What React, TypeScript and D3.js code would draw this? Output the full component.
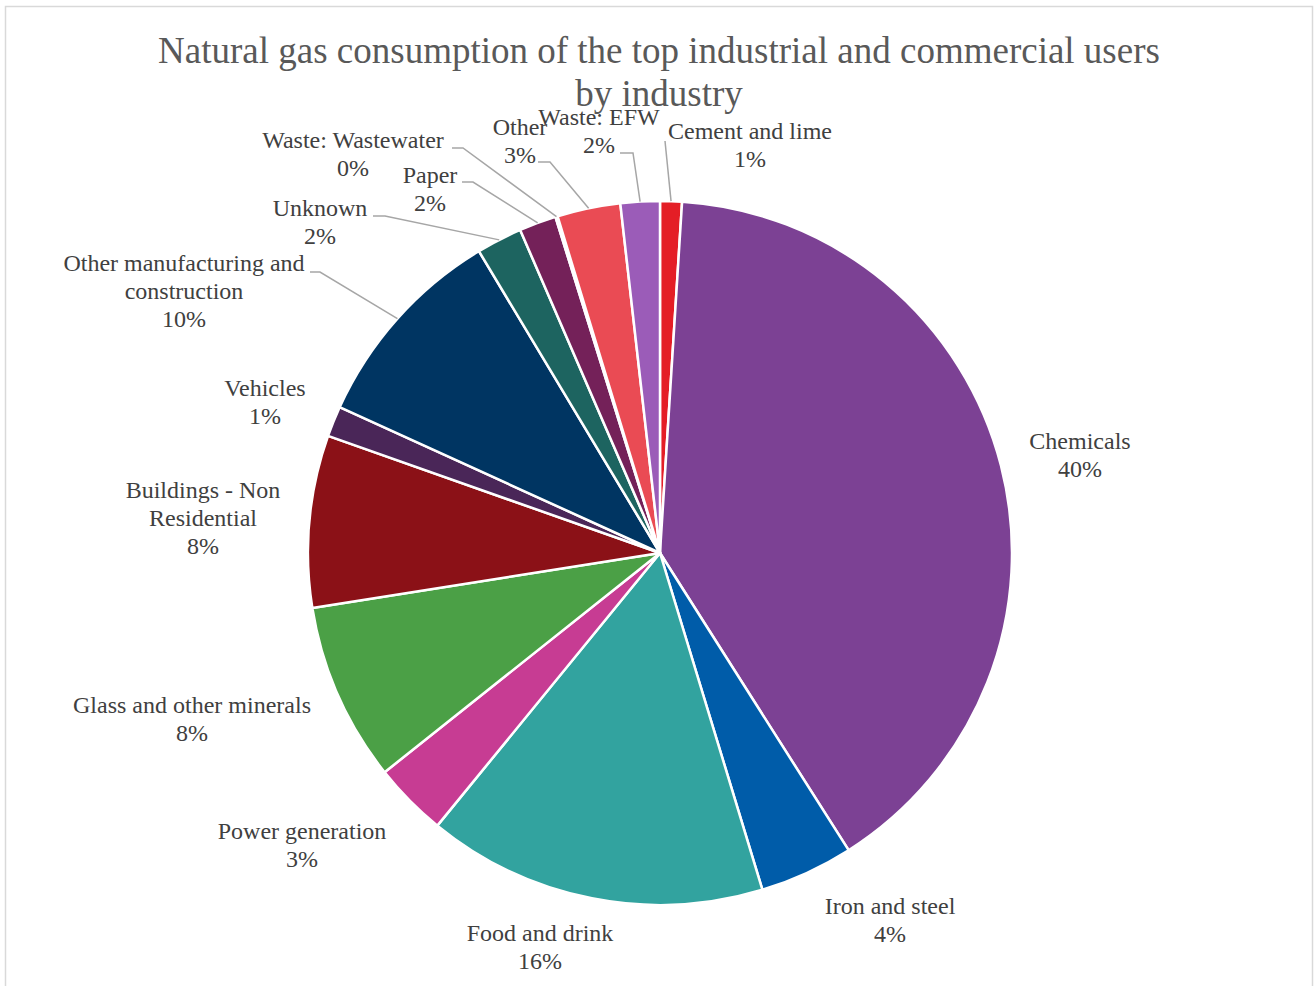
import React from "react";
import * as d3 from "d3";

const categories = [
  "Cement and lime",
  "Chemicals",
  "Iron and steel",
  "Food and drink",
  "Power generation",
  "Glass and other minerals",
  "Buildings - Non Residential",
  "Vehicles",
  "Other manufacturing and construction",
  "Unknown",
  "Paper",
  "Waste: Wastewater",
  "Other",
  "Waste: EFW",
];

const values = [1.0, 40.0, 4.3, 15.6, 3.4, 8.2, 7.9, 1.4, 9.6, 2.1, 1.7, 0.1, 2.9, 1.8];

const colors = [
  "#E41E26",
  "#7C4194",
  "#005CA9",
  "#32A39F",
  "#C73C93",
  "#4BA046",
  "#8B1117",
  "#4A2658",
  "#003562",
  "#1D6460",
  "#742159",
  "#B0B0B0",
  "#EA4B54",
  "#9B5CB8",
];

// label text lines per category (as wrapped in the reference)
const labelLines: string[][] = [
  ["Cement and lime"],
  ["Chemicals"],
  ["Iron and steel"],
  ["Food and drink"],
  ["Power generation"],
  ["Glass and other minerals"],
  ["Buildings - Non", "Residential"],
  ["Vehicles"],
  ["Other manufacturing and", "construction"],
  ["Unknown"],
  ["Paper"],
  ["Waste: Wastewater"],
  ["Other"],
  ["Waste: EFW"],
];

const title = ["Natural gas consumption of the top industrial and commercial users", "by industry"];

// layout (offsets from pie centre), not data
const labelOffsets: [number, number][] = [
  [90, -422],
  [420, -112],
  [230, 353],
  [-120, 380],
  [-358, 278],
  [-468, 152],
  [-457, -63],
  [-395, -165],
  [-476, -290],
  [-340, -345],
  [-230, -378],
  [-307, -413],
  [-140, -426],
  [-61, -436],
];
// leader start & elbow offsets (null = none)
const leaders: ([number, number, number, number] | null)[] = [
  [5, -412, 5, -412],
  null,
  null,
  null,
  null,
  null,
  null,
  null,
  [-350, -281, -340, -281],
  [-287, -337, -275, -337],
  [-198, -371, -187, -371],
  [-208, -405, -197, -405],
  [-122, -391, -110, -391],
  [-40, -400, -27, -400],
];

const W = 1316;
const H = 986;
const cx = 660;
const cy = 553;
const R = 352;
const LH = 28;

export default function App() {
  const total = d3.sum(values);
  const pie = d3
    .pie<number>()
    .sort(null)
    .value((d) => d)
    .startAngle(0)
    .endAngle(2 * Math.PI);
  const arcs = pie(values);
  const arcGen = d3.arc<d3.PieArcDatum<number>>().innerRadius(0).outerRadius(R);

  return (
    <svg
      width={W}
      height={H}
      style={{ position: "absolute", left: 0, top: 0, background: "#fff" }}
      fontFamily="'Liberation Serif', 'Times New Roman', serif"
    >
      <rect x={5.5} y={6.5} width={1307} height={990} fill="#fff" stroke="#d9d9d9" strokeWidth={1.5} />
      <text x={659} y={50} textAnchor="middle" fontSize={37} fill="#595959" dominantBaseline="central">
        {title.map((t, i) => (
          <tspan key={i} x={659} dy={i === 0 ? 0 : 43}>
            {t}
          </tspan>
        ))}
      </text>
      <g transform={`translate(${cx},${cy})`}>
        {arcs.map((a, i) => (
          <path key={i} d={arcGen(a) || ""} fill={colors[i]} stroke="#fff" strokeWidth={2.5} strokeLinejoin="round" />
        ))}
        {arcs.map((a, i) => {
          const l = leaders[i];
          if (!l) return null;
          const mid = (a.startAngle + a.endAngle) / 2;
          const ex = R * Math.sin(mid);
          const ey = -R * Math.cos(mid);
          return (
            <polyline
              key={"l" + i}
              points={`${l[0]},${l[1]} ${l[2]},${l[3]} ${ex},${ey}`}
              fill="none"
              stroke="#a6a6a6"
              strokeWidth={1.5}
            />
          );
        })}
        {arcs.map((a, i) => {
          const [lx, ly] = labelOffsets[i];
          const pct = Math.round((values[i] / total) * 100) + "%";
          const lines = [...labelLines[i], pct];
          return (
            <text key={"t" + i} textAnchor="middle" fontSize={24} fill="#404040" dominantBaseline="central">
              {lines.map((s, j) => (
                <tspan key={j} x={lx} y={ly + j * LH}>
                  {s}
                </tspan>
              ))}
            </text>
          );
        })}
      </g>
    </svg>
  );
}
